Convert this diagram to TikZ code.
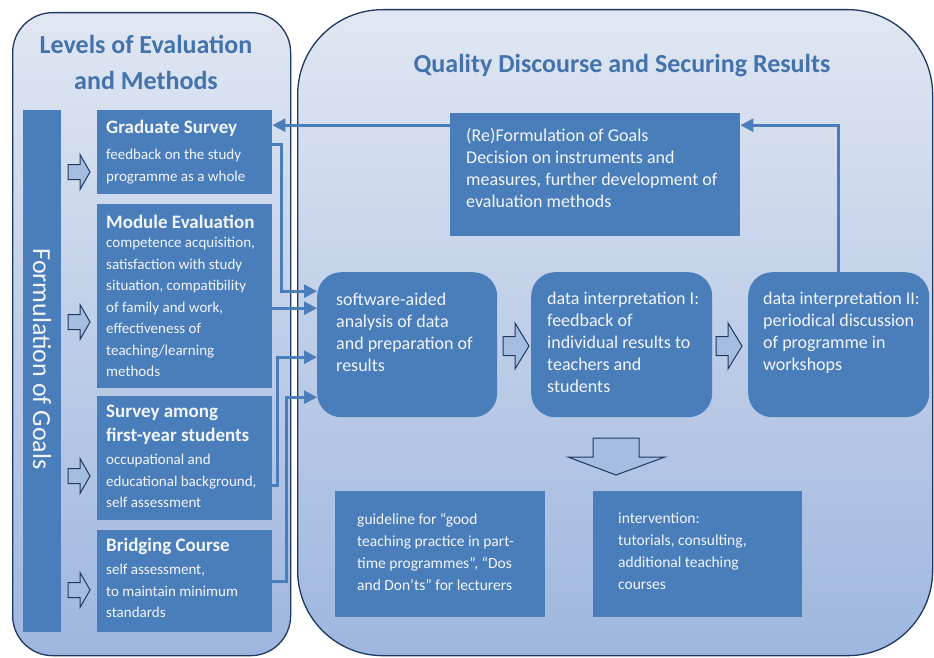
\documentclass[tikz,border=0pt]{standalone}
\usepackage{fontspec}
\setmainfont{Carlito}
\usetikzlibrary{arrows.meta,positioning}

\definecolor{boxblue}{RGB}{74,126,187}
\definecolor{titleblue}{RGB}{68,114,172}
\definecolor{navy}{RGB}{31,56,96}
\definecolor{paneltop}{RGB}{224,231,242}
\definecolor{panelbot}{RGB}{158,182,223}
\definecolor{arrfill}{RGB}{165,189,224}
\definecolor{boxtext}{RGB}{242,245,250}

% fonts of the boxes
\newcommand{\boxhead}{\fontsize{19}{24}\selectfont\bfseries}
\newcommand{\boxbody}{\fontsize{15}{21.5}\selectfont}
\newcommand{\midfont}{\fontsize{18}{22}\selectfont}
\newcommand{\lowfont}{\fontsize{15.5}{22}\selectfont}
% width, height, left pad, top pad, text
\newcommand{\boxcell}[5]{\parbox[c][#2][t]{#1}{\vspace*{#4}\raggedright\setlength{\leftskip}{#3}#5\par}}

\tikzset{
  panel/.style={draw=navy, line width=1.3pt, top color=paneltop, bottom color=panelbot, anchor=north west, inner sep=0pt},
  sqbox/.style={fill=boxblue, anchor=north west, inner sep=0pt, text=boxtext},
  rdbox/.style={sqbox, rounded corners=24pt},
  conn/.style={draw=boxblue, line width=2.8pt, -{Triangle[length=13pt,width=13pt]}},
  blockarr/.style={draw=navy, line width=1pt, fill=arrfill},
  head/.style={text=titleblue, font=\fontsize{26}{36}\selectfont\bfseries, align=center},
  smallarr/.pic={\path[blockarr] (-11,-7.5) -- (1,-7.5) -- (1,-17.5) -- (11,0) -- (1,17.5) -- (1,7.5) -- (-11,7.5) -- cycle;},
  midarr/.pic={\path[blockarr] (-13,-9.5) -- (-1,-9.5) -- (-1,-23) -- (13,0) -- (-1,23) -- (-1,9.5) -- (-13,9.5) -- cycle;}
}

\begin{document}
\begin{tikzpicture}[x=1pt,y=-1pt]
\useasboundingbox (0,0) rectangle (934,658);

% the two panels
\node[panel, minimum width=278pt, minimum height=643pt, rounded corners=40pt] (lpanel) at (12,12) {};
\node[panel, minimum width=635pt, minimum height=646pt, rounded corners=85pt] (rpanel) at (297,9) {};

\node[head] (lhead) at (146,62) {Levels of Evaluation\\and Methods};
\node[head] (rhead) at (622,66) {Quality Discourse and Securing Results};

% levels
\node[fill=boxblue, text=boxtext, minimum width=522pt, minimum height=38pt, inner sep=0pt, rotate=-90,
  font=\fontsize{26}{30}\selectfont] (goals) at (42,371) {Formulation of Goals\kern24pt};

\node[sqbox] (grad) at (97,110) {\boxcell{175pt}{84pt}{9pt}{10pt}{%
  {\boxhead Graduate Survey\par}\vspace{4.5pt}%
  {\boxbody feedback on the study\\programme as a whole\par}}};
\node[sqbox] (mod) at (97,204) {\boxcell{175pt}{184pt}{9pt}{11pt}{%
  {\boxhead Module Evaluation\par}\vspace{-2.5pt}%
  {\boxbody competence acquisition,\\satisfaction with study\\situation, compatibility\\of family and work,\\effectiveness of\\teaching/learning\\methods\par}}};
\node[sqbox] (surv) at (97,396) {\boxcell{175pt}{124pt}{9pt}{9pt}{%
  {\boxhead Survey among\\first-year students\par}\vspace{1.5pt}%
  {\boxbody occupational and\\educational background,\\self assessment\par}}};
\node[sqbox] (bridge) at (97,530) {\boxcell{175pt}{102pt}{9pt}{8pt}{%
  {\boxhead Bridging Course\par}\vspace{1.5pt}%
  {\boxbody self assessment,\\to maintain minimum\\standards\par}}};

\pic at (79,172) {smallarr};
\pic at (79,322) {smallarr};
\pic at (79,476) {smallarr};
\pic at (79,590) {smallarr};

% discourse
\node[sqbox] (reform) at (450,113) {\boxcell{290pt}{123pt}{16pt}{15pt}{\midfont
  (Re)Formulation of Goals\\Decision on instruments and\\measures, further development of\\evaluation methods}};

\node[rdbox] (soft) at (317,272) {\boxcell{180pt}{145pt}{19pt}{21pt}{\midfont
  software-aided\\analysis of data\\and preparation of\\results}};
\node[rdbox] (int1) at (531,272) {\boxcell{181pt}{145pt}{16pt}{20pt}{\midfont
  data interpretation I:\\feedback of\\individual results to\\teachers and\\students}};
\node[rdbox] (int2) at (748,272) {\boxcell{181pt}{145pt}{15pt}{20pt}{\midfont
  data interpretation II:\\periodical discussion\\of programme in\\workshops}};

\node[sqbox] (guide) at (335,491) {\boxcell{210pt}{126pt}{22pt}{22pt}{\lowfont
  guideline for “good\\teaching practice in part-\\time programmes”, “Dos\\and Don’ts” for lecturers}};
\node[sqbox] (interv) at (593,491) {\boxcell{209pt}{126pt}{25pt}{22pt}{\lowfont
  intervention:\\tutorials, consulting,\\additional teaching\\courses}};

\pic at (516,346) {midarr};
\pic at (729,346) {midarr};
\path[blockarr] (593,438) -- (639,438) -- (639,457) -- (665,457) -- (616,475) -- (568,457) -- (593,457) -- cycle;

% connectors
\coordinate (fb) at ([yshift=27pt]grad.east);
\coordinate (in1) at ([yshift=53.5pt]soft.west);
\coordinate (in2) at ([yshift=36.5pt]soft.west);
\coordinate (in3) at ([yshift=-12.5pt]soft.west);
\coordinate (in4) at ([yshift=-52.5pt]soft.west);

\path[conn] (reform.west |- fb) -- (fb);
\path[conn] (int2.north) |- (reform.east |- fb);

\path[conn] ([yshift=8pt]grad.east) -- ++(9,0) |- (in1);
\path[conn] (mod.east |- in2) -- (in2);
\path[conn] ([yshift=-27pt]surv.east) -- ++(5,0) |- (in3);
\path[conn] (bridge.east) -- ++(14,0) |- (in4);
\end{tikzpicture}
\end{document}
